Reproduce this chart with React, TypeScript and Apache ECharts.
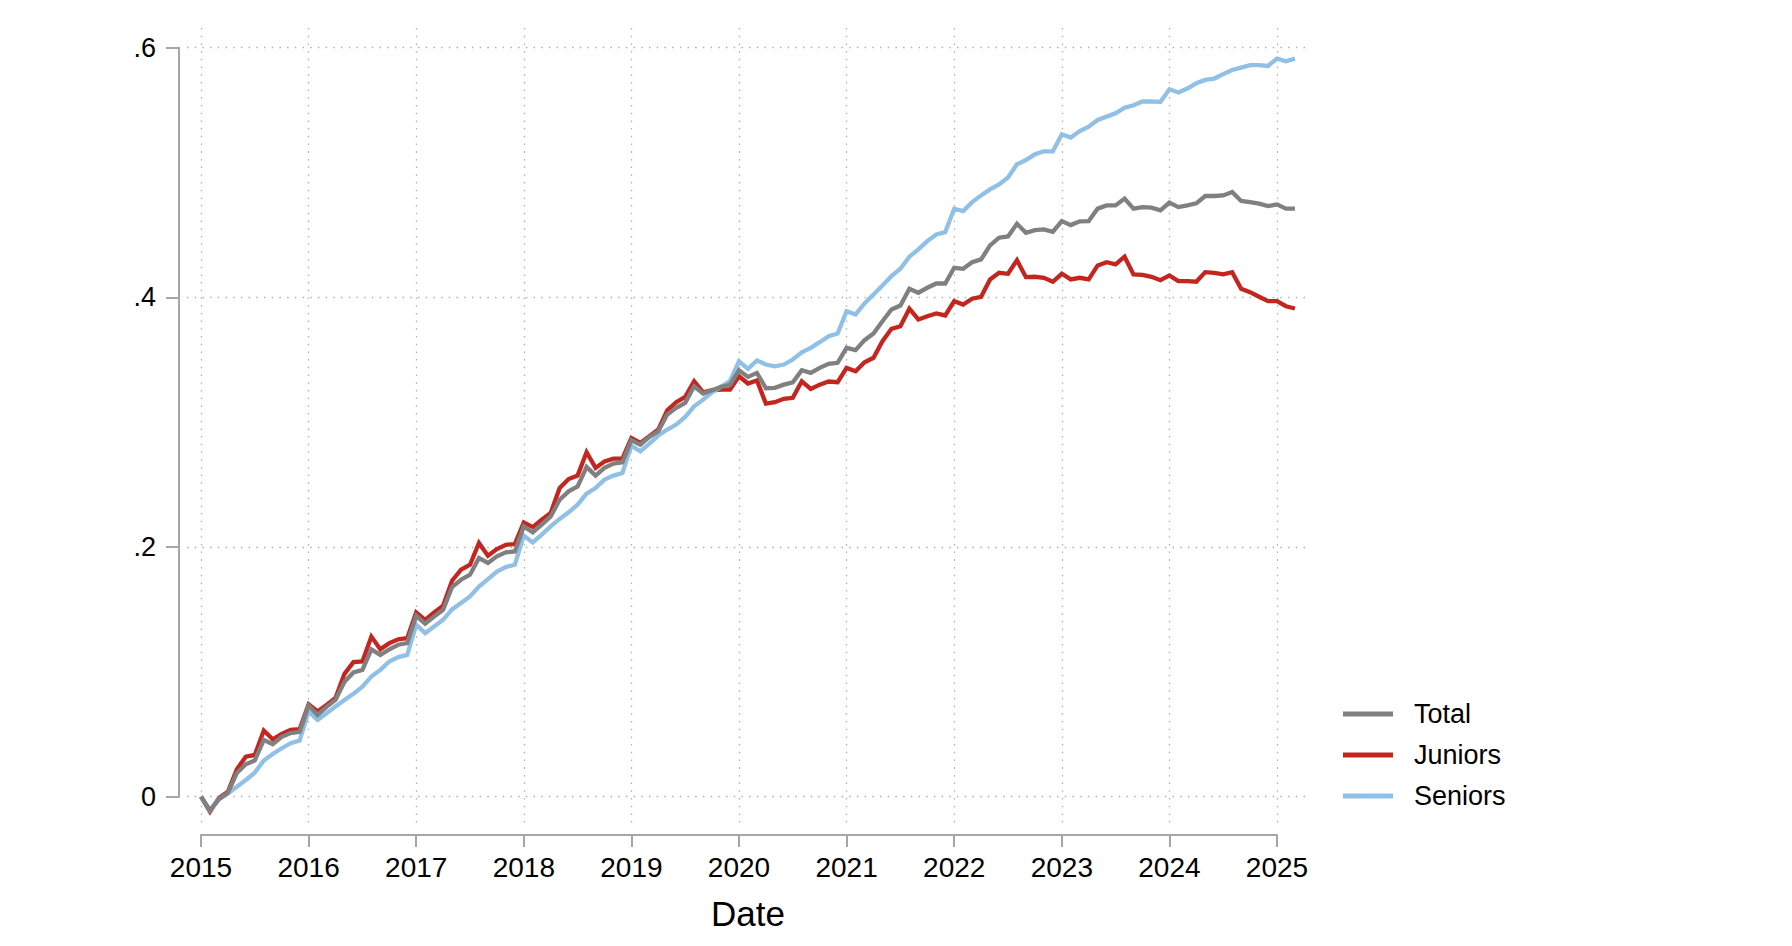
import React, { useEffect, useRef } from "react";
import * as echarts from "echarts";

// Monthly observations, Jan 2015 .. Mar 2025
const startYear = 2015;
const totalValues = [
  0.0, -0.011, -0.002, 0.003, 0.019, 0.026, 0.029, 0.0455, 0.042, 0.048, 0.051, 0.052,
  0.073, 0.0655, 0.072, 0.0775, 0.092, 0.0995, 0.1016, 0.118, 0.1136, 0.118, 0.1217, 0.123,
  0.1449, 0.1385, 0.1443, 0.1497, 0.168, 0.1738, 0.1778, 0.1912, 0.1872, 0.1925, 0.1957, 0.1965,
  0.2165, 0.2117, 0.2179, 0.2245, 0.2379, 0.2446, 0.2486, 0.2641, 0.2572, 0.2634, 0.2668, 0.2678,
  0.2855, 0.282, 0.2882, 0.2927, 0.3061, 0.3115, 0.3155, 0.3288, 0.3229, 0.3256, 0.3283, 0.33,
  0.3416, 0.3363, 0.3395, 0.3272, 0.3275, 0.3301, 0.332, 0.3416, 0.3395, 0.3435, 0.3467, 0.3476,
  0.3596, 0.3577, 0.3657, 0.371, 0.3809, 0.3903, 0.3935, 0.4069, 0.4037, 0.4077, 0.4111, 0.4111,
  0.4237, 0.4229, 0.4282, 0.4304, 0.4416, 0.4478, 0.4488, 0.459, 0.4518, 0.4539, 0.4545, 0.4526,
  0.4611, 0.4579, 0.4609, 0.4611, 0.4711, 0.4737, 0.4737, 0.4791, 0.4711, 0.4723, 0.4719, 0.4697,
  0.4759, 0.4723, 0.4737, 0.4753, 0.4812, 0.4812, 0.4817, 0.4844, 0.4772, 0.4763, 0.4751, 0.4731,
  0.4745, 0.4711, 0.4711,
];
const juniorValues = [
  0.0, -0.012, -0.001, 0.004, 0.022, 0.032, 0.0334, 0.053, 0.046, 0.0503, 0.0535, 0.054,
  0.074, 0.0682, 0.0735, 0.0791, 0.0984, 0.1078, 0.1083, 0.1283, 0.118, 0.123, 0.1261, 0.127,
  0.1476, 0.1417, 0.1476, 0.1529, 0.173, 0.1818, 0.1858, 0.2032, 0.193, 0.1984, 0.2018, 0.2024,
  0.2197, 0.216, 0.2219, 0.2273, 0.2473, 0.2545, 0.2572, 0.2759, 0.2634, 0.2686, 0.2708, 0.2708,
  0.2874, 0.2834, 0.2887, 0.2941, 0.3095, 0.316, 0.3203, 0.3328, 0.324, 0.3256, 0.3261, 0.3261,
  0.3368, 0.331, 0.3334, 0.3149, 0.316, 0.3187, 0.3195, 0.3328, 0.3267, 0.3301, 0.3326, 0.332,
  0.3435, 0.3408, 0.348, 0.3516, 0.3649, 0.3748, 0.3769, 0.3909, 0.3823, 0.3849, 0.3871, 0.3855,
  0.397, 0.3943, 0.3989, 0.4005, 0.4144, 0.4197, 0.4189, 0.4298, 0.4162, 0.4165, 0.4157, 0.4125,
  0.4189, 0.4144, 0.4157, 0.4144, 0.4256, 0.4282, 0.4264, 0.4326, 0.4184, 0.418, 0.4165, 0.4138,
  0.4176, 0.413, 0.413, 0.4125, 0.4202, 0.4197, 0.4184, 0.4202, 0.4069, 0.4042, 0.4005, 0.397,
  0.397, 0.3929, 0.3911,
];
const seniorValues = [
  0.0, -0.011, -0.002, 0.0025, 0.008, 0.0134, 0.0193, 0.0289, 0.0342, 0.0388, 0.0428, 0.0449,
  0.0682, 0.0615, 0.0669, 0.0722, 0.0775, 0.0824, 0.0882, 0.0962, 0.1016, 0.1083, 0.1118, 0.1136,
  0.1377, 0.131, 0.1363, 0.1417, 0.15, 0.1551, 0.1604, 0.1684, 0.1743, 0.1804, 0.184, 0.1858,
  0.2091, 0.2037, 0.2099, 0.2165, 0.2225, 0.2278, 0.2339, 0.2427, 0.2473, 0.254, 0.2572, 0.2593,
  0.2812, 0.2767, 0.2828, 0.2893, 0.2941, 0.2981, 0.3042, 0.3127, 0.3181, 0.324, 0.3283, 0.333,
  0.3488, 0.3427, 0.3494, 0.3462, 0.3448, 0.3462, 0.3502, 0.356, 0.3596, 0.3641, 0.3689, 0.371,
  0.3889, 0.3863, 0.3951, 0.4023, 0.4095, 0.417, 0.4229, 0.4326, 0.4384, 0.4451, 0.4504, 0.4523,
  0.471, 0.4691, 0.4763, 0.4817, 0.4865, 0.4905, 0.496, 0.5066, 0.51, 0.5146, 0.517, 0.517,
  0.5306, 0.528, 0.5333, 0.5368, 0.5421, 0.5448, 0.5475, 0.552, 0.5539, 0.5569, 0.5569, 0.5566,
  0.5667, 0.5641, 0.5673, 0.5715, 0.5742, 0.5753, 0.5788, 0.5822, 0.5841, 0.586, 0.586, 0.5854,
  0.5913, 0.5892, 0.5913,
];
const seriesNames = ["Total", "Juniors", "Seniors"];
const yearTicks = [2015, 2016, 2017, 2018, 2019, 2020, 2021, 2022, 2023, 2024, 2025];
const yTicks = [0, 0.2, 0.4, 0.6];
const xAxisTitle = "Date";

const COLORS: Record<string, string> = {
  Total: "#808080",
  Juniors: "#c3261f",
  Seniors: "#90c0e6",
};

const FONT = "'Liberation Sans', Arial, Helvetica, sans-serif";

function toPairs(values: number[]) {
  return values.map((v, i) => [startYear + i / 12, v]);
}

function fmtY(v: number) {
  if (Math.abs(v) < 1e-9) return "0";
  return String(Number(v.toFixed(1))).replace(/^0\./, ".");
}

export default function App() {
  const ref = useRef<HTMLDivElement>(null);

  useEffect(() => {
    if (!ref.current) return;
    const chart = echarts.init(ref.current, undefined, { renderer: "svg" });

    const gridLine = {
      show: true,
      lineStyle: { color: "#b0b0b0", width: 1.3, type: [1.5, 6.2] as any },
    };
    const axisGray = "#a6a6a6";

    const dataMap: Record<string, number[]> = {
      Total: totalValues,
      Juniors: juniorValues,
      Seniors: seniorValues,
    };
    const drawOrder = ["Juniors", "Seniors", "Total"];

    const option: any = {
      animation: false,
      backgroundColor: "#ffffff",
      textStyle: { fontFamily: FONT },
      grid: [
        // data area
        { left: 187, right: 484, top: 28, bottom: 121, containLabel: false },
        // x axis + vertical grid
        { left: 201, right: 515, top: 28, bottom: 121, containLabel: false },
        // y axis + horizontal grid
        { left: 187, right: 484, top: 47.7, bottom: 149.3, containLabel: false },
      ],
      xAxis: [
        {
          gridIndex: 0,
          type: "value",
          min: 2015 - 14 / 107.6,
          max: 2025 + 31 / 107.6,
          show: false,
        },
        {
          gridIndex: 1,
          type: "value",
          position: "bottom",
          min: yearTicks[0],
          max: yearTicks[yearTicks.length - 1],
          interval: 1,
          offset: 10,
          axisLine: { show: true, onZero: false, lineStyle: { color: axisGray, width: 2 } },
          axisTick: { show: true, length: 12, inside: false, lineStyle: { color: axisGray, width: 2 } },
          axisLabel: {
            show: true,
            margin: 18,
            color: "#000",
            fontSize: 28,
            fontFamily: FONT,
            formatter: (v: number) => String(Math.round(v)),
          },
          splitLine: gridLine,
          name: xAxisTitle,
          nameLocation: "middle",
          nameGap: 61,
          nameTextStyle: { color: "#000", fontSize: 35, fontFamily: FONT, padding: [0, 0, 0, 18] },
        },
        {
          gridIndex: 2,
          type: "value",
          min: 0,
          max: 1,
          show: false,
        },
      ],
      yAxis: [
        {
          gridIndex: 0,
          type: "value",
          min: -(825 - 796.7) / 1247,
          max: 0.6 + (47.7 - 28) / 1247,
          show: false,
        },
        {
          gridIndex: 1,
          type: "value",
          min: 0,
          max: 1,
          show: false,
        },
        {
          gridIndex: 2,
          type: "value",
          position: "left",
          min: yTicks[0],
          max: yTicks[yTicks.length - 1],
          interval: 0.2,
          offset: 8,
          axisLine: { show: true, onZero: false, lineStyle: { color: axisGray, width: 2 } },
          axisTick: { show: true, length: 13, inside: false, lineStyle: { color: axisGray, width: 2 } },
          axisLabel: {
            show: true,
            margin: 23,
            color: "#000",
            fontSize: 27,
            fontFamily: FONT,
            formatter: fmtY,
          },
          splitLine: gridLine,
        },
      ],
      legend: {
        orient: "vertical",
        left: 1338,
        top: 694,
        data: seriesNames,
        icon: "rect",
        itemWidth: 50,
        itemHeight: 5,
        itemGap: 11,
        textStyle: {
          color: "#000",
          fontSize: 27,
          fontFamily: FONT,
          lineHeight: 30,
          padding: [0, 0, 0, 16],
        },
      },
      series: drawOrder.map((name) => ({
        name,
        type: "line",
        xAxisIndex: 0,
        yAxisIndex: 0,
        data: toPairs(dataMap[name]),
        showSymbol: false,
        symbol: "none",
        color: COLORS[name],
        lineStyle: { color: COLORS[name], width: 4.3, join: "miter" },
        itemStyle: { color: COLORS[name] },
        z: name === "Total" ? 4 : 3,
      })),
    };

    chart.setOption(option);
    return () => {
      chart.dispose();
    };
  }, []);

  return (
    <div
      ref={ref}
      style={{ position: "fixed", left: 0, top: 0, width: 1792, height: 946, background: "#fff" }}
    />
  );
}
